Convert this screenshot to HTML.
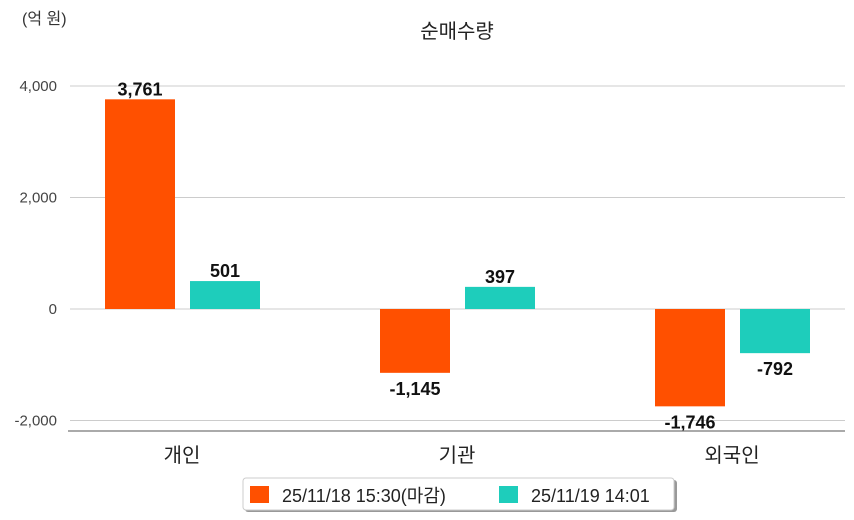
<!DOCTYPE html>
<html><head><meta charset="utf-8"><style>
body{margin:0;background:#fff;}
svg{display:block;font-family:"Liberation Sans","Noto Sans CJK KR",sans-serif;}
</style></head><body>
<svg id="c" width="854" height="520">
<text x="22" y="24" font-size="16" fill="#333">(억 원)</text>
<text x="457" y="38" font-size="20" fill="#222" text-anchor="middle">순매수량</text>
<g id="grid"></g><g id="bars"></g>
<line x1="68" x2="845" y1="431" y2="431" stroke="#777" stroke-width="1.2"/>
<g>
<rect x="245" y="480" width="432" height="32" fill="#999" rx="3"/>
<rect x="243" y="478" width="431" height="32" fill="#fff" stroke="#ccc" rx="3"/>
<rect x="250" y="486" width="19" height="17" fill="#ff5000"/>
<text x="282" y="502" font-size="18" fill="#222">25/11/18 15:30(마감)</text>
<rect x="499" y="486" width="19" height="17" fill="#1ecdbb"/>
<text x="531" y="502" font-size="18" fill="#222">25/11/19 14:01</text>
</g>
</svg>
<script>
const categories=["개인","기관","외국인"];
const series1=[3761,-1145,-1746];
const series2=[501,397,-792];
const ticks=[4000,2000,0,-2000];
const tickLabels=["4,000","2,000","0","-2,000"];
const NS="http://www.w3.org/2000/svg";
const y=v=>309-v*(223/4000);
const cx=i=>182+i*275;
function mk(t,a,p){const e=document.createElementNS(NS,t);for(const k in a)e.setAttribute(k,a[k]);p.appendChild(e);return e;}
const g=document.getElementById('grid'),b=document.getElementById('bars');
ticks.forEach((t,i)=>{
 const l=mk('line',{x1:70,x2:845,y1:y(t),y2:y(t),stroke:'#ccc'},g);
 
 
 const tx=mk('text',{x:57,y:y(t)+5,'font-size':15,fill:'#444','text-anchor':'end'},g);
 tx.textContent=tickLabels[i];
 
 
});
const fmt=v=>v.toLocaleString('en-US');
function bar(v,x,col,name){
 const top=Math.min(y(v),y(0)),h=Math.abs(y(v)-y(0));
 const r=mk('rect',{x:x,y:top,width:70,height:h,fill:col},b);
 
 
 const t=mk('text',{x:x+35,y:v>=0?top-4:top+h+22,'font-size':18,'font-weight':'bold',fill:'#111','text-anchor':'middle'},b);
 t.textContent=fmt(v);
 
 
}
categories.forEach((c,i)=>{
 bar(series1[i],cx(i)-77,'#ff5000','bar-1118-'+i);
 bar(series2[i],cx(i)+8,'#1ecdbb','bar-1119-'+i);
 const t=mk('text',{x:cx(i),y:462,'font-size':20,fill:'#222','text-anchor':'middle'},b);
 t.textContent=c;
 
 
});
</script>
</body></html>
